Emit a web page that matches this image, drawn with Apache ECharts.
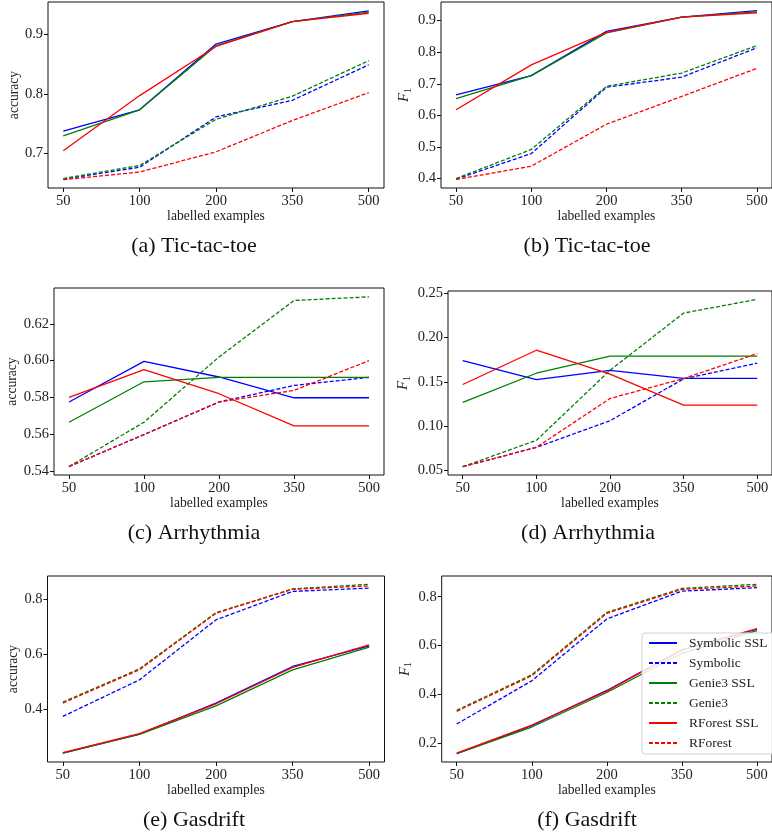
<!DOCTYPE html>
<html>
<head>
<meta charset="utf-8">
<script src="https://cdn.jsdelivr.net/npm/echarts@6/dist/echarts.min.js"></script>
<style>html,body{margin:0;padding:0;background:#fff;}#c{width:772px;height:837px;}</style>
</head>
<body>
<div id="c"></div>
<script>
// ---------- data ----------
const categories = ['50', '100', '200', '350', '500'];
const seriesNames = ['Symbolic SSL', 'Symbolic', 'Genie3 SSL', 'Genie3', 'RForest SSL', 'RForest'];

// (a) Tic-tac-toe accuracy
const tttAccSymbolicSSL = [0.737, 0.773, 0.884, 0.922, 0.940];
const tttAccSymbolic    = [0.656, 0.676, 0.761, 0.789, 0.849];
const tttAccGenie3SSL   = [0.729, 0.773, 0.881, 0.922, 0.938];
const tttAccGenie3      = [0.657, 0.679, 0.757, 0.796, 0.856];
const tttAccRForestSSL  = [0.704, 0.797, 0.880, 0.922, 0.936];
const tttAccRForest     = [0.655, 0.668, 0.702, 0.755, 0.802];

// (b) Tic-tac-toe F1
const tttF1SymbolicSSL = [0.665, 0.726, 0.866, 0.911, 0.932];
const tttF1Symbolic    = [0.398, 0.479, 0.689, 0.721, 0.814];
const tttF1Genie3SSL   = [0.653, 0.726, 0.861, 0.911, 0.928];
const tttF1Genie3      = [0.400, 0.492, 0.692, 0.734, 0.821];
const tttF1RForestSSL  = [0.618, 0.760, 0.863, 0.911, 0.925];
const tttF1RForest     = [0.397, 0.439, 0.572, 0.660, 0.749];

// (c) Arrhythmia accuracy
const arrAccSymbolicSSL = [0.5775, 0.5996, 0.5911, 0.5798, 0.5798];
const arrAccSymbolic    = [0.5424, 0.5598, 0.5775, 0.5865, 0.5909];
const arrAccGenie3SSL   = [0.5665, 0.5885, 0.5909, 0.5909, 0.5909];
const arrAccGenie3      = [0.5424, 0.5665, 0.6020, 0.6327, 0.6347];
const arrAccRForestSSL  = [0.5800, 0.5951, 0.5820, 0.5645, 0.5645];
const arrAccRForest     = [0.5424, 0.5598, 0.5775, 0.5838, 0.6000];

// (d) Arrhythmia F1
const arrF1SymbolicSSL = [0.1740, 0.1526, 0.1630, 0.1540, 0.1540];
const arrF1Symbolic    = [0.0545, 0.0762, 0.1062, 0.1534, 0.1710];
const arrF1Genie3SSL   = [0.1268, 0.1597, 0.1790, 0.1790, 0.1790];
const arrF1Genie3      = [0.0545, 0.0841, 0.1630, 0.2275, 0.2429];
const arrF1RForestSSL  = [0.1470, 0.1856, 0.1586, 0.1238, 0.1238];
const arrF1RForest     = [0.0545, 0.0762, 0.1313, 0.1537, 0.1818];

// (e) Gasdrift accuracy
const gasAccSymbolicSSL = [0.2405, 0.3094, 0.4218, 0.5547, 0.6296];
const gasAccSymbolic    = [0.3734, 0.5060, 0.7240, 0.8270, 0.8390];
const gasAccGenie3SSL   = [0.2405, 0.3080, 0.4120, 0.5426, 0.6248];
const gasAccGenie3      = [0.4254, 0.5460, 0.7500, 0.8360, 0.8530];
const gasAccRForestSSL  = [0.2417, 0.3106, 0.4193, 0.5510, 0.6330];
const gasAccRForest     = [0.4220, 0.5426, 0.7480, 0.8350, 0.8470];

// (f) Gasdrift F1
const gasF1SymbolicSSL = [0.1563, 0.2710, 0.4155, 0.5820, 0.6666];
const gasF1Symbolic    = [0.2778, 0.4550, 0.7090, 0.8230, 0.8370];
const gasF1Genie3SSL   = [0.1560, 0.2655, 0.4070, 0.5680, 0.6610];
const gasF1Genie3      = [0.3340, 0.4800, 0.7360, 0.8340, 0.8510];
const gasF1RForestSSL  = [0.1580, 0.2737, 0.4128, 0.5820, 0.6690];
const gasF1RForest     = [0.3300, 0.4756, 0.7320, 0.8300, 0.8440];

// y tick labels
const yTicksA = [0.7, 0.8, 0.9];
const yTicksB = [0.4, 0.5, 0.6, 0.7, 0.8, 0.9];
const yTicksC = [0.54, 0.56, 0.58, 0.60, 0.62];
const yTicksD = [0.05, 0.10, 0.15, 0.20, 0.25];
const yTicksE = [0.4, 0.6, 0.8];
const yTicksF = [0.2, 0.4, 0.6, 0.8];

const captions = ['(a) Tic-tac-toe', '(b) Tic-tac-toe', '(c) Arrhythmia', '(d) Arrhythmia', '(e) Gasdrift', '(f) Gasdrift'];

// ---------- layout / style ----------
const FONT = '"Liberation Serif", "DejaVu Serif", serif';
const TXT = '#222';
const panels = [
  { grid: {left: 48,  top: 2,   width: 336, height: 186}, y: [0.641, 0.955], ticks: yTicksA, dec: 1, metric: 'acc', gap: 26,
    data: [tttAccSymbolicSSL, tttAccSymbolic, tttAccGenie3SSL, tttAccGenie3, tttAccRForestSSL, tttAccRForest], cap: [194, 246] },
  { grid: {left: 441, top: 2,   width: 337, height: 186}, y: [0.370, 0.959], ticks: yTicksB, dec: 1, metric: 'f1', gap: 28,
    data: [tttF1SymbolicSSL, tttF1Symbolic, tttF1Genie3SSL, tttF1Genie3, tttF1RForestSSL, tttF1RForest], cap: [587, 246] },
  { grid: {left: 54,  top: 288, width: 330, height: 187}, y: [0.5378, 0.6395], ticks: yTicksC, dec: 2, metric: 'acc', gap: 32,
    data: [arrAccSymbolicSSL, arrAccSymbolic, arrAccGenie3SSL, arrAccGenie3, arrAccRForestSSL, arrAccRForest], cap: [194, 533] },
  { grid: {left: 448, top: 291, width: 330, height: 184}, y: [0.0451, 0.2523], ticks: yTicksD, dec: 2, metric: 'f1', gap: 36,
    data: [arrF1SymbolicSSL, arrF1Symbolic, arrF1Genie3SSL, arrF1Genie3, arrF1RForestSSL, arrF1RForest], cap: [588, 533] },
  { grid: {left: 47.5, top: 576, width: 337, height: 186}, y: [0.208, 0.883], ticks: yTicksE, dec: 1, metric: 'acc', gap: 26,
    data: [gasAccSymbolicSSL, gasAccSymbolic, gasAccGenie3SSL, gasAccGenie3, gasAccRForestSSL, gasAccRForest], cap: [194, 820] },
  { grid: {left: 441.7, top: 576, width: 336.6, height: 186}, y: [0.122, 0.885], ticks: yTicksF, dec: 1, metric: 'f1', gap: 28,
    data: [gasF1SymbolicSSL, gasF1Symbolic, gasF1Genie3SSL, gasF1Genie3, gasF1RForestSSL, gasF1RForest], cap: [587, 820] }
];
const colors = ['#0000ff', '#0000ff', '#008000', '#008000', '#ff0000', '#ff0000'];
const dashed = [false, true, false, true, false, true];

const grids = [], xAxes = [], yAxes = [], series = [], graphics = [];
panels.forEach((p, i) => {
  grids.push(Object.assign({show: true, borderColor: '#111', borderWidth: 1, backgroundColor: 'transparent'}, p.grid));
  xAxes.push({
    type: 'value', gridIndex: i, min: -0.2, max: 4.2, position: 'bottom',
    name: 'labelled examples', nameLocation: 'middle', nameGap: 18,
    nameTextStyle: {fontFamily: FONT, fontSize: 13.6, color: TXT},
    axisLine: {show: false, onZero: false}, splitLine: {show: false},
    axisTick: {show: true, length: 4, lineStyle: {color: '#111', width: 1}, customValues: categories.map((c, k) => k)},
    axisLabel: {show: true, margin: 6, fontFamily: FONT, fontSize: 14.5, color: TXT,
      customValues: categories.map((c, k) => k), formatter: v => categories[Math.round(v)]}
  });
  const nameF1 = '{f|F}{s|1}';
  yAxes.push({
    type: 'value', gridIndex: i, min: p.y[0], max: p.y[1], position: 'left',
    name: p.metric === 'acc' ? 'accuracy' : nameF1, nameLocation: 'middle', nameGap: p.gap, nameRotate: 90,
    nameTextStyle: {fontFamily: FONT, fontSize: 13.6, color: TXT,
      rich: {f: {fontFamily: FONT, fontStyle: 'italic', fontSize: 15, color: TXT},
             s: {fontFamily: FONT, fontSize: 10, color: TXT, padding: [8, 0, 0, 0]}}},
    axisLine: {show: false, onZero: false}, splitLine: {show: false},
    axisTick: {show: true, length: 4, lineStyle: {color: '#111', width: 1}, customValues: p.ticks},
    axisLabel: {show: true, margin: 5, fontFamily: FONT, fontSize: 14.5, color: TXT,
      customValues: p.ticks, formatter: v => Number(v).toFixed(p.dec)}
  });
  p.data.forEach((arr, s) => {
    series.push({
      type: 'line', name: seriesNames[s], xAxisIndex: i, yAxisIndex: i,
      data: arr.map((v, k) => [k, v]),
      symbol: 'none', showSymbol: false, animation: false, silent: true,
      lineStyle: {color: colors[s], width: 1.3, type: dashed[s] ? [4, 2] : 'solid'},
      itemStyle: {color: colors[s]}, z: 2 + s
    });
  });
  graphics.push({
    type: 'text', x: p.cap[0], y: p.cap[1],
    style: {text: captions[i], fontFamily: FONT, fontSize: 22, fill: '#111', textAlign: 'center', textVerticalAlign: 'middle'}
  });
});

const chart = echarts.init(document.getElementById('c'), null, {renderer: 'canvas'});
chart.setOption({
  animation: false,
  backgroundColor: '#fff',
  grid: grids, xAxis: xAxes, yAxis: yAxes, series: series,
  graphic: graphics,
  legend: {
    data: seriesNames, orient: 'vertical', left: 642, top: 633,
    itemWidth: 28, itemHeight: 10, itemGap: 6,
    padding: [3, 20, 4, 6],
    itemStyle: {opacity: 0, borderWidth: 0},
    backgroundColor: 'rgba(255,255,255,0.85)', borderColor: '#d0d0d0', borderWidth: 1, borderRadius: 3,
    textStyle: {fontFamily: FONT, fontSize: 13.5, color: TXT, padding: [0, 0, 0, 7], lineHeight: 14},
    selectedMode: false, z: 20
  }
});
</script>
</body>
</html>
